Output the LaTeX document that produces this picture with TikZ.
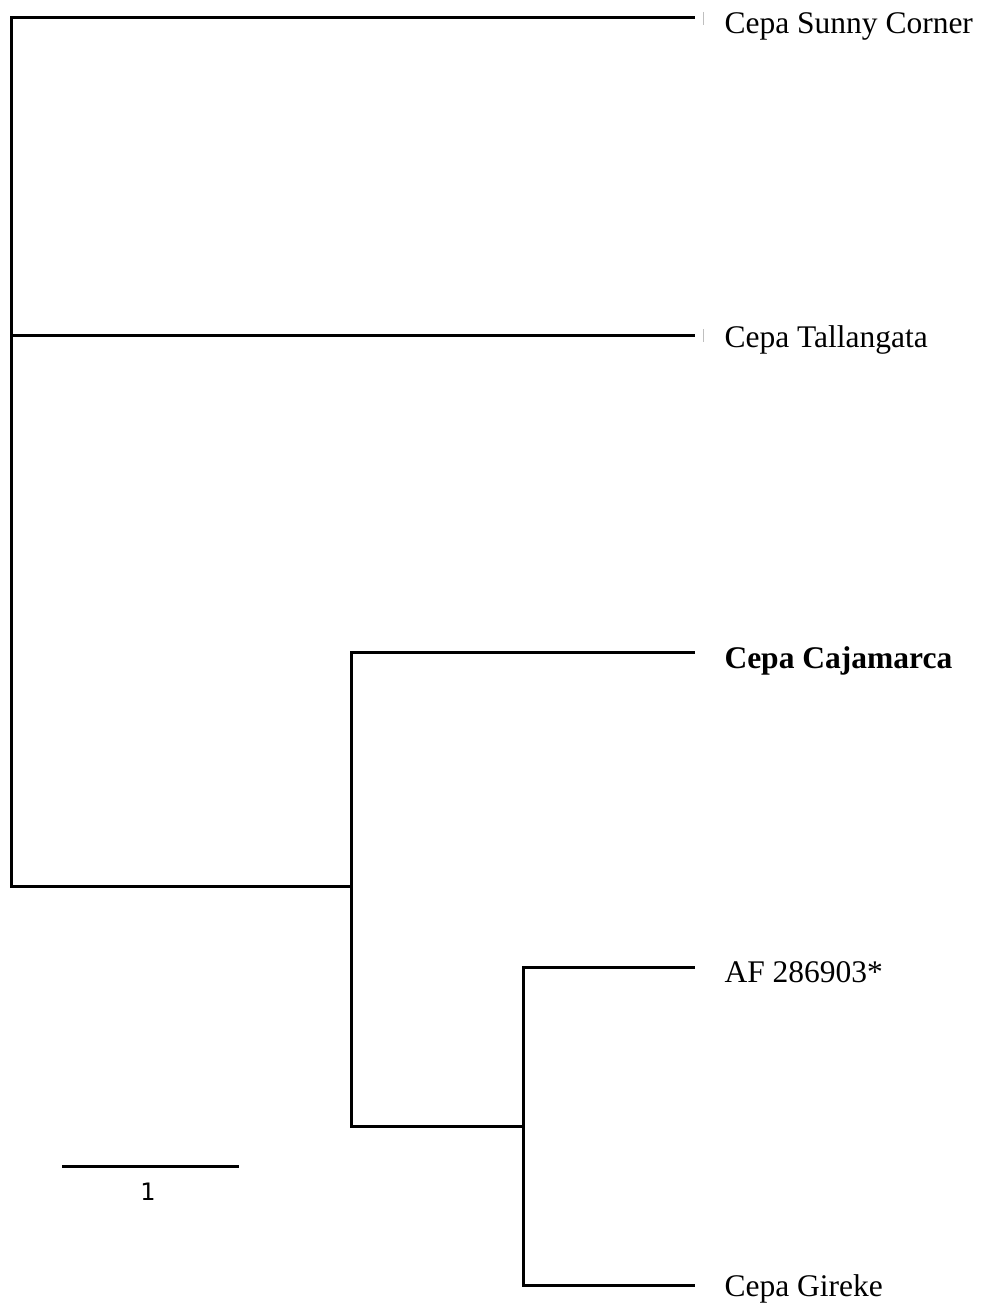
\documentclass[tikz,border=0pt]{standalone}
\usepackage{fontspec}
\setmainfont{Liberation Serif}
\newfontfamily\escalafont{DejaVu Sans}
\usetikzlibrary{positioning}

\begin{document}
\begin{tikzpicture}[line cap=rect,line join=miter,x=1pt,y=-1pt,line width=3pt,
        etiqueta/.style={anchor=west,inner sep=0pt,font=\fontsize{31.5}{38}\selectfont,text height=21pt,text depth=0pt},
        marca/.style={line width=0.8pt,line cap=butt,black!25},
        escala/.style={inner sep=0pt,font=\escalafont\fontsize{24}{28}\selectfont,text height=17.5pt,text depth=0pt}]
        \useasboundingbox (0,0) rectangle (982,1306);
        % nodos internos
        \coordinate (raiz1) at (11,18);
        \coordinate (raiz2) at (11,335);
        \coordinate (raiz3) at (11,886);
        \coordinate (cladoA) at (351,652);
        \coordinate (cladoB) at (351,886);
        \coordinate (cladoC) at (351,1126);
        \coordinate (subA) at (523,967);
        \coordinate (subB) at (523,1126);
        \coordinate (subC) at (523,1285);
        % puntas de las ramas
        \coordinate (finSunny) at (693,18);
        \coordinate (finTall) at (693,335);
        \coordinate (finCaja) at (693,652);
        \coordinate (finAF) at (693,967);
        \coordinate (finGireke) at (693,1285);
        \node [etiqueta,right=30pt of finSunny,yshift=-5pt] (sunny) {Cepa Sunny Corner};
        \node [etiqueta,right=30pt of finTall,yshift=-1.5pt] (tall) {Cepa Tallangata};
        \node [etiqueta,right=30pt of finCaja,yshift=-5.5pt] (caja) {\textbf{Cepa Cajamarca}};
        \node [etiqueta,right=30pt of finAF,yshift=-4.5pt] (af) {AF 286903*};
        \node [etiqueta,right=30pt of finGireke,yshift=-1pt] (gireke) {Cepa Gireke};
        % ramas
        \draw [] (raiz1)-- (raiz3);
        \draw [] (raiz1)-- (finSunny);
        \draw [] (raiz2)-- (finTall);
        \draw [] (raiz3)-- (cladoB);
        \draw [] (cladoA)-- (cladoC);
        \draw [] (cladoA)-- (finCaja);
        \draw [] (cladoC)-- (subB);
        \draw [] (subA)-- (subC);
        \draw [] (subA)-- (finAF);
        \draw [] (subC)-- (finGireke);
        % marcas grises
        \draw [marca] (703,12)-- (703,25);
        \draw [marca] (703,329)-- (703,342);
        % barra de escala
        \coordinate (esc1) at (63,1166);
        \coordinate (esc2) at (237,1166);
        \coordinate (escmid) at (148,1166);
        \draw [] (esc1)-- (esc2);
        \node [escala,below=15.75pt of escmid] (uno) {1};
\end{tikzpicture}
\end{document}
